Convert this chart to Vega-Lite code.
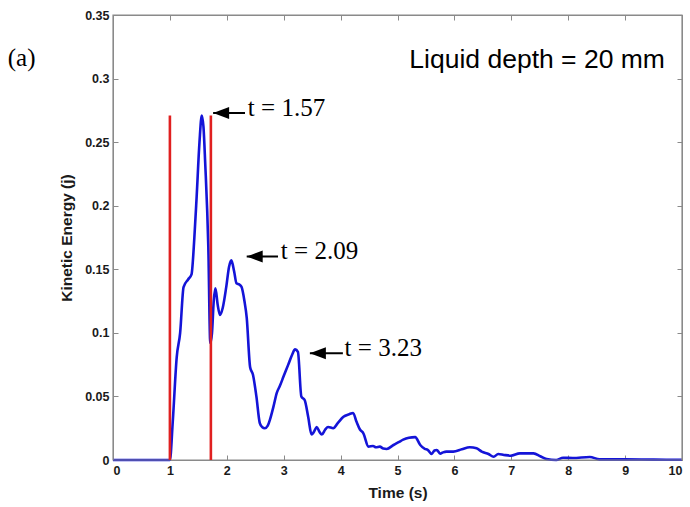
{
  "$schema": "https://vega.github.io/schema/vega-lite/v6.json",
  "width": 569,
  "height": 445,
  "autosize": {"type": "none"},
  "padding": {"left": 113, "top": 15, "right": 8, "bottom": 47},
  "background": "white",
  "config": {
    "view": {"stroke": "#8a8a8a", "strokeWidth": 1},
    "axis": {
      "grid": false,
      "domainColor": "#8a8a8a",
      "tickColor": "#8a8a8a",
      "labelColor": "#1a1a1a",
      "labelFont": "Liberation Sans",
      "labelFontWeight": "bold",
      "labelFontSize": 12.5,
      "titleFont": "Liberation Sans",
      "titleFontWeight": "bold",
      "titleFontSize": 15.5,
      "titleColor": "#1a1a1a",
      "tickSize": -5,
      "labelPadding": 9
    }
  },
  "datasets": {
    "curve": [
      {"t": 0, "e": 0}, {"t": 1.0, "e": 0}, {"t": 1.05, "e": 0.03}, {"t": 1.12, "e": 0.081},
      {"t": 1.18, "e": 0.1}, {"t": 1.24, "e": 0.136}, {"t": 1.32, "e": 0.142}, {"t": 1.38, "e": 0.146},
      {"t": 1.43, "e": 0.175}, {"t": 1.47, "e": 0.207}, {"t": 1.52, "e": 0.25}, {"t": 1.56, "e": 0.271},
      {"t": 1.59, "e": 0.262}, {"t": 1.62, "e": 0.234}, {"t": 1.675, "e": 0.168}, {"t": 1.71, "e": 0.092},
      {"t": 1.74, "e": 0.1}, {"t": 1.77, "e": 0.125}, {"t": 1.8, "e": 0.135}, {"t": 1.84, "e": 0.122},
      {"t": 1.88, "e": 0.114}, {"t": 1.93, "e": 0.12}, {"t": 1.99, "e": 0.136}, {"t": 2.04, "e": 0.152},
      {"t": 2.08, "e": 0.157}, {"t": 2.13, "e": 0.148}, {"t": 2.17, "e": 0.139}, {"t": 2.22, "e": 0.138},
      {"t": 2.26, "e": 0.136}, {"t": 2.31, "e": 0.125}, {"t": 2.35, "e": 0.112}, {"t": 2.41, "e": 0.073},
      {"t": 2.46, "e": 0.067}, {"t": 2.52, "e": 0.05}, {"t": 2.58, "e": 0.029}, {"t": 2.62, "e": 0.026},
      {"t": 2.67, "e": 0.025}, {"t": 2.72, "e": 0.027}, {"t": 2.76, "e": 0.032}, {"t": 2.82, "e": 0.042},
      {"t": 2.88, "e": 0.053}, {"t": 2.93, "e": 0.058}, {"t": 3.0, "e": 0.066}, {"t": 3.08, "e": 0.075},
      {"t": 3.15, "e": 0.083}, {"t": 3.2, "e": 0.087}, {"t": 3.25, "e": 0.085}, {"t": 3.31, "e": 0.05},
      {"t": 3.37, "e": 0.047}, {"t": 3.43, "e": 0.034}, {"t": 3.49, "e": 0.02}, {"t": 3.53, "e": 0.022},
      {"t": 3.58, "e": 0.026}, {"t": 3.63, "e": 0.022}, {"t": 3.67, "e": 0.02}, {"t": 3.73, "e": 0.024},
      {"t": 3.78, "e": 0.026}, {"t": 3.87, "e": 0.025}, {"t": 3.95, "e": 0.029}, {"t": 4.05, "e": 0.034},
      {"t": 4.15, "e": 0.036}, {"t": 4.22, "e": 0.037}, {"t": 4.28, "e": 0.03}, {"t": 4.34, "e": 0.024},
      {"t": 4.4, "e": 0.021}, {"t": 4.49, "e": 0.0105}, {"t": 4.57, "e": 0.011}, {"t": 4.62, "e": 0.01},
      {"t": 4.69, "e": 0.0105}, {"t": 4.75, "e": 0.009}, {"t": 4.81, "e": 0.0087}, {"t": 4.93, "e": 0.0118},
      {"t": 5.02, "e": 0.014}, {"t": 5.1, "e": 0.016}, {"t": 5.2, "e": 0.0175}, {"t": 5.31, "e": 0.018},
      {"t": 5.4, "e": 0.0118}, {"t": 5.48, "e": 0.0087}, {"t": 5.53, "e": 0.008}, {"t": 5.6, "e": 0.0047},
      {"t": 5.65, "e": 0.0075}, {"t": 5.69, "e": 0.0079}, {"t": 5.75, "e": 0.005}, {"t": 5.8, "e": 0.006},
      {"t": 5.86, "e": 0.0066}, {"t": 5.98, "e": 0.0066}, {"t": 6.13, "e": 0.0084}, {"t": 6.27, "e": 0.01},
      {"t": 6.39, "e": 0.0092}, {"t": 6.48, "e": 0.0066}, {"t": 6.6, "e": 0.0047}, {"t": 6.69, "e": 0.0026},
      {"t": 6.77, "e": 0.0047}, {"t": 6.87, "e": 0.004}, {"t": 6.99, "e": 0.0034}, {"t": 7.15, "e": 0.0052},
      {"t": 7.39, "e": 0.0052}, {"t": 7.51, "e": 0.003}, {"t": 7.62, "e": 0.0008}, {"t": 7.79, "e": 0.0},
      {"t": 7.91, "e": 0.0018}, {"t": 8.08, "e": 0.0016}, {"t": 8.38, "e": 0.0024}, {"t": 8.55, "e": 0.0005},
      {"t": 9.0, "e": 0.0005}, {"t": 9.5, "e": 0.0003}, {"t": 10, "e": 0.0002}
    ],
    "marks": [
      {"tm": 1.0, "lo": 0, "hi": 0.271},
      {"tm": 1.72, "lo": 0, "hi": 0.271}
    ],
    "frame": [
      {"x0": 0, "x1": 10, "y0": 0, "y1": 0.35}
    ],
    "arrows": [
      {"tip": 1.76, "tail": 2.32, "y": 0.273, "lt": 2.37, "ly": 0.277, "label": "t = 1.57"},
      {"tip": 2.35, "tail": 2.9, "y": 0.16, "lt": 2.95, "ly": 0.164, "label": "t = 2.09"},
      {"tip": 3.46, "tail": 4.04, "y": 0.084, "lt": 4.07, "ly": 0.088, "label": "t = 3.23"}
    ],
    "notes": [
      {"t": 9.7, "e": 0.315, "label": "Liquid depth = 20 mm", "kind": "depth"},
      {"t": -1.85, "e": 0.316, "label": "(a)", "kind": "panel"}
    ]
  },
  "layer": [
    {
      "data": {"name": "curve"},
      "mark": {"type": "line", "color": "#1414d8", "strokeWidth": 2.6, "interpolate": "monotone"},
      "encoding": {
        "x": {"field": "t", "type": "quantitative", "scale": {"domain": [0, 10], "nice": false},
              "axis": {"values": [0,1,2,3,4,5,6,7,8,9,10], "format": "d", "title": "Time (s)", "titlePadding": 9}},
        "y": {"field": "e", "type": "quantitative", "scale": {"domain": [0, 0.35], "nice": false},
              "axis": {"values": [0,0.05,0.1,0.15,0.2,0.25,0.3,0.35], "format": "~g", "title": "Kinetic Energy (j)", "titlePadding": 10}}
      }
    },
    {
      "data": {"name": "frame"},
      "mark": {"type": "rect", "filled": false, "stroke": "#8a8a8a", "strokeWidth": 1.2},
      "encoding": {
        "x": {"field": "x0", "type": "quantitative", "axis": null},
        "x2": {"field": "x1"},
        "y": {"field": "y0", "type": "quantitative", "axis": null},
        "y2": {"field": "y1"}
      }
    },
    {
      "data": {"name": "marks"},
      "mark": {"type": "rule", "color": "#e02020", "strokeWidth": 2.6},
      "encoding": {
        "x": {"field": "tm", "type": "quantitative", "axis": null},
        "y": {"field": "lo", "type": "quantitative", "axis": null},
        "y2": {"field": "hi"}
      }
    },
    {
      "data": {"name": "arrows"},
      "mark": {"type": "rule", "color": "black", "strokeWidth": 2},
      "encoding": {
        "x": {"field": "tip", "type": "quantitative",
              "axis": {"orient": "top", "values": [0,1,2,3,4,5,6,7,8,9,10], "labels": false, "title": null,
                       "domain": true, "ticks": true, "tickSize": -5, "tickColor": "#8a8a8a", "domainColor": "#8a8a8a", "tickWidth": 1, "domainWidth": 1}},
        "x2": {"field": "tail"},
        "y": {"field": "y", "type": "quantitative",
              "axis": {"orient": "right", "values": [0,0.05,0.1,0.15,0.2,0.25,0.3,0.35], "labels": false, "title": null,
                       "domain": true, "ticks": true, "tickSize": -5, "tickColor": "#8a8a8a", "domainColor": "#8a8a8a", "tickWidth": 1, "domainWidth": 1}}
      }
    },
    {
      "data": {"name": "arrows"},
      "mark": {"type": "point", "shape": "M0,0 L2,-0.75 L2,0.75 Z", "filled": true, "color": "black", "opacity": 1, "size": 256},
      "encoding": {
        "x": {"field": "tip", "type": "quantitative", "axis": null},
        "y": {"field": "y", "type": "quantitative", "axis": null}
      }
    },
    {
      "data": {"name": "arrows"},
      "mark": {"type": "text", "font": "Liberation Serif", "fontSize": 25, "align": "left", "baseline": "middle", "color": "black"},
      "encoding": {
        "x": {"field": "lt", "type": "quantitative", "axis": null},
        "y": {"field": "ly", "type": "quantitative", "axis": null},
        "text": {"field": "label"}
      }
    },
    {
      "data": {"name": "notes"},
      "transform": [{"filter": "datum.kind === 'depth'"}],
      "mark": {"type": "text", "font": "Liberation Sans", "fontSize": 26.5, "align": "right", "baseline": "middle", "color": "black"},
      "encoding": {
        "x": {"field": "t", "type": "quantitative", "axis": null},
        "y": {"field": "e", "type": "quantitative", "axis": null},
        "text": {"field": "label"}
      }
    },
    {
      "data": {"name": "notes"},
      "transform": [{"filter": "datum.kind === 'panel'"}],
      "mark": {"type": "text", "font": "Liberation Serif", "fontSize": 25, "align": "left", "baseline": "middle", "color": "black"},
      "encoding": {
        "x": {"field": "t", "type": "quantitative", "axis": null},
        "y": {"field": "e", "type": "quantitative", "axis": null},
        "text": {"field": "label"}
      }
    }
  ],
  "resolve": {"axis": {"x": "independent", "y": "independent"}}
}
